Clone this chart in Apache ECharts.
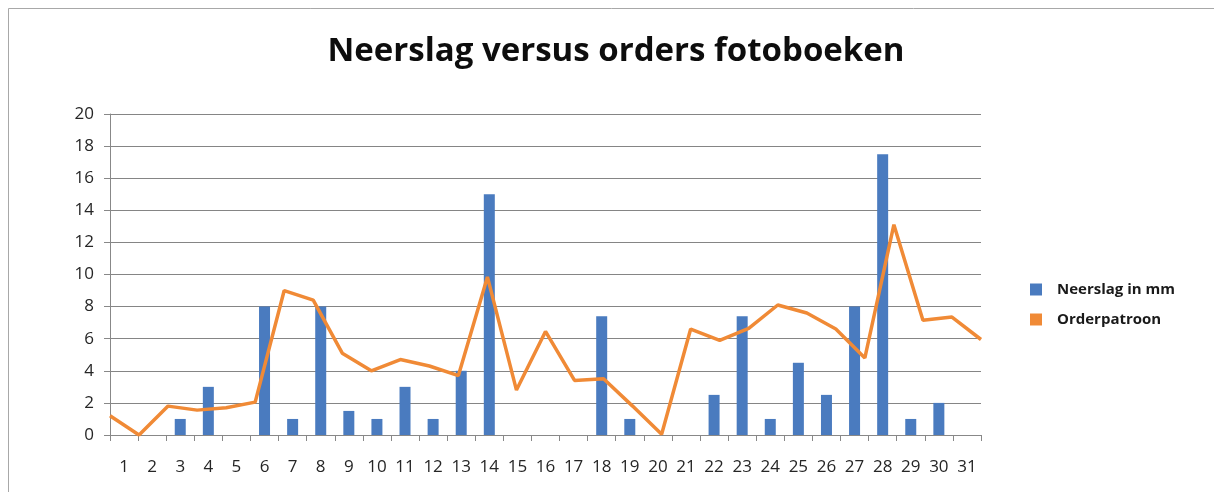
<!DOCTYPE html>
<html>
<head>
<meta charset="utf-8">
<script src="https://cdn.jsdelivr.net/npm/echarts@6/dist/echarts.min.js"></script>
<style>
html,body{margin:0;padding:0;background:#fff;}
#c{width:1214px;height:492px;}
</style>
</head>
<body>
<div id="c"></div>
<script>
const days = ['1','2','3','4','5','6','7','8','9','10','11','12','13','14','15','16','17','18','19','20','21','22','23','24','25','26','27','28','29','30','31'];
const neerslag = [0,0,1,3,0,8,1,8,1.5,1,3,1,4,15,0,0,0,7.4,1,0,0,2.5,7.4,1,4.5,2.5,8,17.5,1,2,0];
const orderpatroon = [1.2,0,1.8,1.55,1.7,2.05,9.0,8.4,5.1,4.0,4.7,4.3,3.7,9.85,2.8,6.45,3.4,3.5,1.8,0.05,6.6,5.9,6.65,8.1,7.6,6.6,4.8,13.1,7.15,7.35,5.95];
const yTicks = [0,2,4,6,8,10,12,14,16,18,20];

const chart = echarts.init(document.getElementById('c'));
const labelFont = {fontFamily:'Open Sans', fontSize:17, color:'#262626'};
chart.setOption({
  animation:false,
  backgroundColor:'#fff',
  title:{
    text:'Neerslag versus orders fotoboeken',
    left:611, top:30, textAlign:'center',
    textStyle:{fontFamily:'Open Sans', fontWeight:'bold', fontSize:33, color:'#0d0d0d'}
  },
  graphic:[{
    type:'rect', silent:true,
    shape:{x:8.5, y:8.5, width:1400, height:700},
    style:{fill:'none', stroke:'#a8a8a8', lineWidth:1}
  }],
  legend:{
    orient:'vertical', left:1025, top:277,
    itemWidth:12, itemHeight:12, itemGap:15,
    icon:'rect',
    textStyle:{fontFamily:'Open Sans', fontWeight:'bold', fontSize:15, color:'#1a1a1a', padding:[0,0,0,10]},
    data:['Neerslag in mm','Orderpatroon']
  },
  grid:{left:110, right:233, top:114, bottom:57, containLabel:false},
  xAxis:[{
    type:'category', data:days, boundaryGap:true,
    axisLine:{lineStyle:{color:'#888', width:1}},
    axisTick:{show:true, length:6, lineStyle:{color:'#888'}},
    axisLabel:Object.assign({margin:24, interval:0}, labelFont)
  },{
    type:'category', data:days, boundaryGap:false, show:false, position:'bottom'
  }],
  yAxis:{
    type:'value', min:0, max:20, interval:2,
    axisLine:{show:true, lineStyle:{color:'#888'}},
    axisTick:{show:true, length:6, lineStyle:{color:'#888'}},
    axisLabel:Object.assign({margin:16}, labelFont),
    splitLine:{lineStyle:{color:'#858585', width:1.2}}
  },
  series:[{
    name:'Neerslag in mm', type:'bar', xAxisIndex:0,
    data:neerslag, barWidth:11,
    itemStyle:{color:'#4a7bbf'}
  },{
    name:'Orderpatroon', type:'line', xAxisIndex:1,
    data:orderpatroon, showSymbol:false, symbol:'none',
    lineStyle:{color:'#f08a36', width:3.5},
    itemStyle:{color:'#f08a36'}
  }]
});
</script>
</body>
</html>
